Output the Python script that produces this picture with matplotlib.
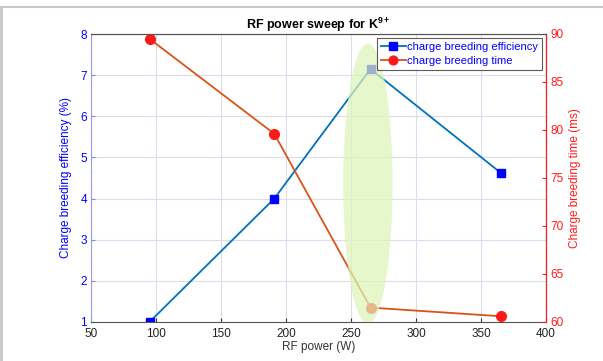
import numpy as np

import matplotlib
matplotlib.use('Agg')
import matplotlib.pyplot as plt
from matplotlib.patches import Ellipse
from matplotlib.lines import Line2D

# data
rf_power = [95, 191, 265, 365]
efficiency = [1.0, 4.0, 7.15, 4.63]
breeding_time = [89.5, 79.6, 61.5, 60.6]

plt.rcParams['font.family'] = ['Liberation Sans', 'DejaVu Sans']
plt.rcParams['font.size'] = 8.5
plt.rcParams['mathtext.fontset'] = 'custom'
plt.rcParams['mathtext.rm'] = 'Liberation Sans'
plt.rcParams['mathtext.bf'] = 'Liberation Sans:bold'

BLUE = '#0000ff'
RED = '#ff1a1a'
LINE_BLUE = '#0072bd'
LINE_RED = '#d95319'
GRID = '#dcdcf0'

fig = plt.figure(figsize=(6.03, 3.61), dpi=100)
ax = fig.add_axes([91 / 603, 1 - 322 / 361, 455 / 603, 288 / 361])
ax2 = ax.twinx()

ax.set_xlim(50, 400)
ax.set_ylim(1, 8)
ax2.set_ylim(60, 90)
ax.set_xticks(np.arange(50, 401, 50))
ax.set_yticks(np.arange(1, 9, 1))
ax2.set_yticks(np.arange(60, 91, 5))

ax.grid(True, color=GRID, linewidth=0.8)
ax.set_axisbelow(True)

l1, = ax.plot(rf_power, efficiency, '-s', color=LINE_BLUE, lw=1.3,
              markerfacecolor=BLUE, markeredgecolor=BLUE, markersize=6,
              label='charge breeding efficiency')
l2, = ax2.plot(rf_power, breeding_time, '-o', color=LINE_RED, lw=1.3,
               markerfacecolor=RED, markeredgecolor=RED, markersize=7,
               label='charge breeding time')

# highlight ellipse drawn over both lines (right-axis units)
ell = Ellipse((263, 74.4), 38, 29.2, facecolor='#dcf5b8', edgecolor='none',
              alpha=0.72, zorder=5)
ax2.add_patch(ell)

ax.set_title(r'RF power sweep for K$^{\mathbf{9+}}$', fontweight='bold', fontsize=9, pad=3)
ax.set_xlabel('RF power (W)', color='#333333', labelpad=1)
ax.set_ylabel('Charge breeding efficiency (%)', color=BLUE, labelpad=6)
ax2.set_ylabel('Charge breeding time (ms)', color=RED, labelpad=4)

ax.tick_params(axis='x', direction='in', colors='#333333', labelcolor='#222222', length=3, pad=4)
ax.tick_params(axis='y', direction='in', colors='#8888dd', labelcolor=BLUE, length=3, pad=3)
ax2.tick_params(axis='y', direction='in', colors=RED, labelcolor=RED, length=3, pad=3)

ax.spines['left'].set_color('#9999dd')
ax.spines['top'].set_color('#555555')
ax.spines['bottom'].set_color('#555555')
ax2.spines['right'].set_color(RED)
ax2.spines['left'].set_visible(False)
ax2.spines['top'].set_color('#555555')
ax2.spines['bottom'].set_visible(False)
for s in ax.spines.values():
    s.set_linewidth(0.8)
ax2.spines['right'].set_linewidth(0.8)

leg = ax2.legend(handles=[l1, l2], loc='upper right', fontsize=8,
                 frameon=True, fancybox=False, edgecolor='#333333',
                 borderpad=0.3, labelspacing=0.4, handlelength=2.3,
                 handletextpad=0.1, borderaxespad=0.4, labelcolor=BLUE,
                 markerscale=0.9)
leg.get_frame().set_linewidth(0.8)
leg.set_zorder(10)

# screenshot frame at top and left
fig.add_artist(Line2D([0, 1], [1 - 7 / 361] * 2, color='#c8c8c8', lw=1.5,
                      transform=fig.transFigure))
fig.add_artist(Line2D([1 / 603] * 2, [0, 1 - 7 / 361], color='#c8c8c8', lw=2,
                      transform=fig.transFigure))

fig.savefig('out.png', dpi=100)
plt.close(fig)
